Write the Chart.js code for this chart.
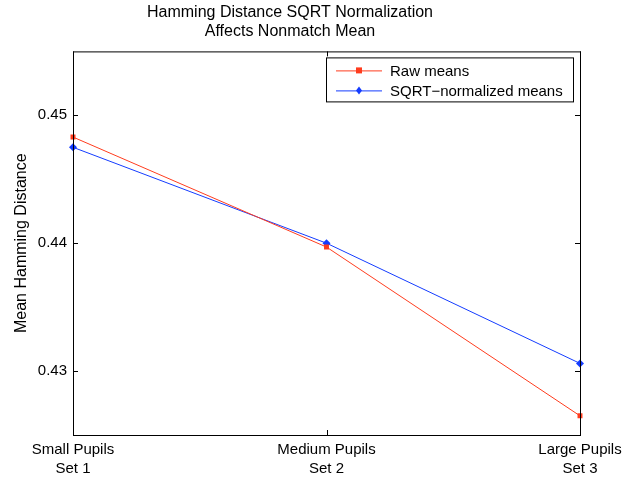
<!DOCTYPE html>
<html>
<head>
<meta charset="utf-8">
<script src="https://cdn.jsdelivr.net/npm/chart.js@4.4.0/dist/chart.umd.min.js"></script>
<style>
  html, body { margin: 0; padding: 0; background: #fff; }
  #wrap { width: 622px; height: 481px; }
</style>
</head>
<body>
<div id="wrap"><canvas id="grafico" width="622" height="481"></canvas></div>
<script>
// --- datos ---
const categorias = [['Small Pupils', 'Set 1'], ['Medium Pupils', 'Set 2'], ['Large Pupils', 'Set 3']];
const mediasRaw = [0.4483, 0.4397, 0.4265];
const mediasSqrt = [0.4475, 0.4400, 0.4306];
const ticksY = [0.43, 0.44, 0.45];

const ROJO = 'rgb(255, 60, 30)';
const AZUL = 'rgb(20, 60, 255)';
const FUENTE = "'Liberation Sans', Arial, Helvetica, sans-serif";

// marco negro con marcas hacia dentro (estilo MATLAB)
const marco = {
    id: 'marco',
    afterDatasetsDraw(chart) {
        const { ctx, chartArea: a, scales } = chart;
        ctx.save();
        ctx.strokeStyle = '#000';
        ctx.lineWidth = 1;
        ctx.strokeRect(a.left + 0.5, a.top + 0.5, a.right - a.left, a.bottom - a.top);
        const L = 5;
        ctx.beginPath();
        for (const t of scales.y.ticks) {
            const y = Math.round(scales.y.getPixelForValue(t.value)) + 0.5;
            ctx.moveTo(a.left, y); ctx.lineTo(a.left + L, y);
            ctx.moveTo(a.right, y); ctx.lineTo(a.right - L, y);
        }
        for (let i = 0; i < categorias.length; i++) {
            const x = Math.round(scales.x.getPixelForValue(i)) + 0.5;
            ctx.moveTo(x, a.bottom); ctx.lineTo(x, a.bottom - L);
            ctx.moveTo(x, a.top); ctx.lineTo(x, a.top + L);
        }
        ctx.stroke();
        ctx.restore();
    }
};

// leyenda con línea + marcador
const leyenda = {
    id: 'leyenda',
    afterDraw(chart) {
        const { ctx, chartArea: a } = chart;
        const x0 = a.right - 254, y0 = a.top + 6, w = 247, h = 44;
        ctx.save();
        ctx.fillStyle = '#fff';
        ctx.fillRect(x0, y0, w, h);
        ctx.strokeStyle = '#000';
        ctx.lineWidth = 1;
        ctx.strokeRect(x0 + 0.5, y0 + 0.5, w, h);
        ctx.font = '15px ' + FUENTE;
        ctx.textBaseline = 'middle';
        chart.data.datasets.forEach((ds, i) => {
            const y = y0 + 13 + i * 20;
            ctx.strokeStyle = ds.borderColor;
            ctx.beginPath();
            ctx.moveTo(x0 + 10, y + 0.5); ctx.lineTo(x0 + 56, y + 0.5);
            ctx.stroke();
            ctx.fillStyle = ds.borderColor;
            const mx = x0 + 33;
            if (ds.pointStyle === 'rect') {
                ctx.fillRect(mx - 3, y - 3, 6, 6);
            } else {
                ctx.beginPath();
                ctx.moveTo(mx, y - 4); ctx.lineTo(mx + 3, y); ctx.lineTo(mx, y + 4); ctx.lineTo(mx - 3, y);
                ctx.closePath(); ctx.fill();
            }
            ctx.fillStyle = '#000';
            ctx.fillText(ds.label, x0 + 64, y + 1);
        });
        ctx.restore();
    }
};

new Chart(document.getElementById('grafico'), {
    type: 'line',
    data: {
        labels: categorias,
        datasets: [
            {
                label: 'Raw means',
                data: mediasRaw,
                borderColor: ROJO,
                backgroundColor: ROJO,
                borderWidth: 1,
                pointStyle: 'rect',
                pointRadius: 3.5,
                pointBorderWidth: 0,
                tension: 0
            },
            {
                label: 'SQRT\u2212normalized means',
                data: mediasSqrt,
                borderColor: AZUL,
                backgroundColor: AZUL,
                borderWidth: 1,
                pointStyle: 'rectRot',
                pointRadius: 4,
                pointBorderWidth: 0,
                tension: 0
            }
        ]
    },
    options: {
        responsive: false,
        animation: false,
        layout: { padding: { left: 0, right: 42, top: 0, bottom: 0 } },
        scales: {
            x: {
                type: 'category',
                offset: false,
                grid: { display: false, drawTicks: false },
                border: { display: false },
                ticks: { color: '#000', font: { family: FUENTE, size: 15, lineHeight: 1.3 }, padding: 5, maxRotation: 0 },
                afterFit: s => { s.height = 46; s.paddingLeft = 0; s.paddingRight = 0; }
            },
            y: {
                min: 0.425,
                max: 0.455,
                grid: { display: false, drawTicks: false },
                border: { display: false },
                afterBuildTicks: s => { s.ticks = ticksY.map(v => ({ value: v })); },
                ticks: { color: '#000', font: { family: FUENTE, size: 15 }, padding: 6,
                         callback: v => v.toFixed(2) },
                title: { display: true, text: 'Mean Hamming Distance', color: '#000',
                         font: { family: FUENTE, size: 16 }, padding: { top: 12, bottom: 6 } },
                afterFit: s => { s.width = 73; s.paddingTop = 0; s.paddingBottom = 0; }
            }
        },
        plugins: {
            legend: { display: false },
            tooltip: { enabled: false },
            title: {
                display: true,
                text: ['Hamming Distance SQRT Normalization', 'Affects Nonmatch Mean'],
                color: '#000',
                font: { family: FUENTE, size: 16, weight: 'normal', lineHeight: 1.2 },
                padding: { top: 3, bottom: 10 }
            }
        }
    },
    plugins: [marco, leyenda]
});
</script>
</body>
</html>
